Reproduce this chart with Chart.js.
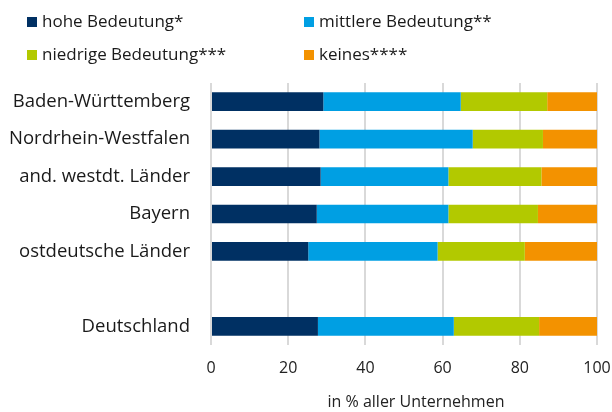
<!DOCTYPE html>
<html>
<head>
<meta charset="utf-8">
<script src="https://cdn.jsdelivr.net/npm/chart.js@4/dist/chart.umd.min.js"></script>
<style>
  html, body { margin: 0; padding: 0; background: #fff; }
  #wrap { width: 612px; height: 412px; position: relative; }
</style>
</head>
<body>
<div id="wrap"><canvas id="chart" width="612" height="412"></canvas></div>
<script>
const regions = ['Baden-Württemberg', 'Nordrhein-Westfalen', 'and. westdt. Länder', 'Bayern', 'ostdeutsche Länder', '', 'Deutschland'];
const hohe     = [29.1, 28.1, 28.4, 27.4, 25.2, null, 27.7];
const mittlere = [35.6, 39.7, 33.1, 34.1, 33.5, null, 35.2];
const niedrige = [22.4, 18.2, 24.1, 23.2, 22.6, null, 22.1];
const keines   = [12.9, 14.0, 14.4, 15.3, 18.7, null, 15.0];
const xTicks = [0, 20, 40, 60, 80, 100];
const xTitle = 'in % aller Unternehmen';

const FONT = '"Open Sans", sans-serif';

// legend in two columns above the plot, axis title below
const extras = {
  id: 'extras',
  afterDraw(chart) {
    const ctx = chart.ctx;
    const cols = [27, 304];
    const rows = [22, 55];
    ctx.save();
    ctx.font = '17px ' + FONT;
    ctx.textBaseline = 'middle';
    chart.data.datasets.forEach((ds, i) => {
      const x = cols[i % 2];
      const y = rows[Math.floor(i / 2)];
      ctx.fillStyle = ds.backgroundColor;
      ctx.fillRect(x, y - 5, 10, 10);
      ctx.fillStyle = '#1a1a1a';
      ctx.fillText(ds.label, x + 15, y);
    });
    ctx.font = '16px ' + FONT;
    ctx.textAlign = 'center';
    ctx.fillStyle = '#222';
    ctx.fillText(xTitle, 416, 402);
    ctx.restore();
  }
};

new Chart(document.getElementById('chart'), {
  type: 'bar',
  data: {
    labels: regions,
    datasets: [
      { label: 'hohe Bedeutung*', data: hohe, backgroundColor: '#003063' },
      { label: 'mittlere Bedeutung**', data: mittlere, backgroundColor: '#009fe3' },
      { label: 'niedrige Bedeutung***', data: niedrige, backgroundColor: '#b2c900' },
      { label: 'keines****', data: keines, backgroundColor: '#f39200' }
    ]
  },
  options: {
    indexAxis: 'y',
    responsive: false,
    animation: false,
    datasets: { bar: { categoryPercentage: 0.5, barPercentage: 1, borderWidth: 0 } },
    layout: { padding: { top: 83, right: 15, left: 0, bottom: 0 } },
    plugins: { legend: { display: false }, tooltip: { enabled: false } },
    scales: {
      x: {
        stacked: true,
        min: 0,
        max: 100,
        afterBuildTicks(axis) { axis.ticks = xTicks.map(v => ({ value: v })); },
        afterFit(axis) {
          axis.height = 67;
          axis.paddingLeft = 0;
          axis.paddingRight = 0;
        },
        grid: { color: '#d9d9d9', lineWidth: 2, drawTicks: false },
        border: { display: false },
        ticks: { color: '#222', padding: 14, font: { family: FONT, size: 16 } }
      },
      y: {
        stacked: true,
        afterFit(axis) { axis.width = 211; },
        grid: { display: false, drawTicks: false },
        border: { display: false },
        ticks: { color: '#1a1a1a', padding: 21, font: { family: FONT, size: 18.5 } }
      }
    }
  },
  plugins: [extras]
});
</script>
</body>
</html>
